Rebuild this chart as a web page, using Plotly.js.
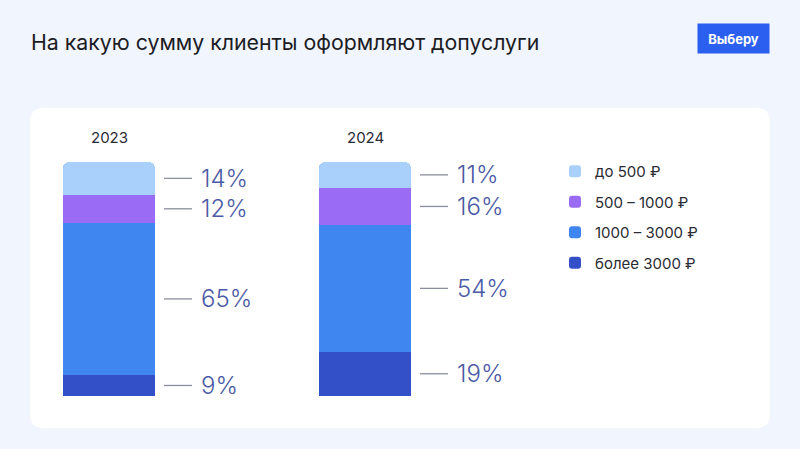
<!DOCTYPE html>
<html>
<head>
<meta charset="utf-8">
<script src="https://cdn.plot.ly/plotly-3.0.1.min.js"></script>
<style>
html,body{margin:0;padding:0;background:#f1f5fd;}
#chart{width:800px;height:449px;}
</style>
</head>
<body>
<div id="chart"></div>
<script>
const years = ["2023", "2024"];
const seriesNames = ["более 3000 ₽", "1000 – 3000 ₽", "500 – 1000 ₽", "до 500 ₽"];
const over3000 = [9, 19];
const from1000to3000 = [65, 54];
const from500to1000 = [12, 16];
const upTo500 = [14, 11];
const seriesColors = ["#3350c9", "#3f86f0", "#9a6cf6", "#a8d0fb"];

const seriesValues = [over3000, from1000to3000, from500to1000, upTo500];
const xs = years.map((_, i) => i);
const barW = 0.36;

const traces = seriesValues.map((vals, k) => ({
  type: "bar",
  x: xs,
  y: vals,
  width: barW,
  name: seriesNames[k],
  legendgroup: "g" + k,
  legendrank: seriesValues.length - k,
  marker: {color: seriesColors[k], line: {width: 0}},
  hoverinfo: "skip"
}));

const annotations = [];
const shapes = [];

// card background
const cx0 = 30/800, cx1 = 770/800, cy1 = 1 - 108/449, cy0 = 1 - 428/449;
const rx = 14/800, ry = 14/449;
shapes.push({
  type: "path", xref: "paper", yref: "paper", layer: "below",
  path: `M${cx0+rx},${cy0} L${cx1-rx},${cy0} Q${cx1},${cy0} ${cx1},${cy0+ry} L${cx1},${cy1-ry} Q${cx1},${cy1} ${cx1-rx},${cy1} L${cx0+rx},${cy1} Q${cx0},${cy1} ${cx0},${cy1-ry} L${cx0},${cy0+ry} Q${cx0},${cy0} ${cx0+rx},${cy0} Z`,
  fillcolor: "#ffffff", line: {width: 0}
});

years.forEach((yr, i) => {
  let base = 0;
  seriesValues.forEach((vals) => {
    const v = vals[i];
    const mid = base + v / 2;
    const x0 = i + barW / 2 + 0.035;
    shapes.push({
      type: "line", xref: "x", yref: "y",
      x0: x0, x1: x0 + 0.109, y0: mid, y1: mid,
      line: {color: "#8a8e9c", width: 1.3}
    });
    annotations.push({
      xref: "x", yref: "y", x: i + barW / 2 + 0.172, y: mid,
      xanchor: "left", yanchor: "middle", showarrow: false,
      text: v + "%",
      font: {family: "Inter, 'Open Sans', sans-serif", size: 24, color: "#4b5aa6", weight: 300}
    });
    base += v;
  });
  annotations.push({
    xref: "x", yref: "y", x: i, y: base, yshift: 25,
    xanchor: "center", yanchor: "middle", showarrow: false,
    text: yr,
    font: {family: "Inter, 'Open Sans', sans-serif", size: 15, color: "#2b2b33"}
  });
});

// title
annotations.push({
  xref: "paper", yref: "paper", x: 29/800, y: 1 - 42/449,
  xanchor: "left", yanchor: "middle", showarrow: false,
  text: "На какую сумму клиенты оформляют допуслуги",
  font: {family: "Inter, 'Open Sans', sans-serif", size: 21.3, color: "#1c1c24"}
});
// button
annotations.push({
  xref: "paper", yref: "paper", x: 733.5/800, y: 1 - 38.5/449,
  xanchor: "center", yanchor: "middle", showarrow: false,
  text: "<b>Выберу</b>", width: 65, height: 23,
  bgcolor: "#2b5ff0", borderpad: 3,
  font: {family: "Inter, 'Open Sans', sans-serif", size: 13, color: "#ffffff"}
});

const layout = {
  width: 800, height: 449,
  margin: {l: 0, r: 0, t: 0, b: 0},
  paper_bgcolor: "#f1f5fd",
  plot_bgcolor: "rgba(0,0,0,0)",
  barmode: "stack",
  barcornerradius: 6,
  xaxis: {range: [-109/256, -109/256 + 800/256], visible: false, fixedrange: true},
  yaxis: {range: [-53/2.34, -53/2.34 + 449/2.34], visible: false, fixedrange: true},
  showlegend: true,
  legend: {
    x: 555/800, y: 1 - 155/449, xanchor: "left", yanchor: "top",
    traceorder: "grouped", tracegroupgap: 8,
    bgcolor: "rgba(0,0,0,0)", itemwidth: 30,
    font: {family: "Inter, 'Open Sans', sans-serif", size: 15, color: "#2b2b33"}
  },
  shapes: shapes,
  annotations: annotations
};

Plotly.newPlot("chart", traces, layout, {displayModeBar: false, staticPlot: true});
</script>
</body>
</html>
